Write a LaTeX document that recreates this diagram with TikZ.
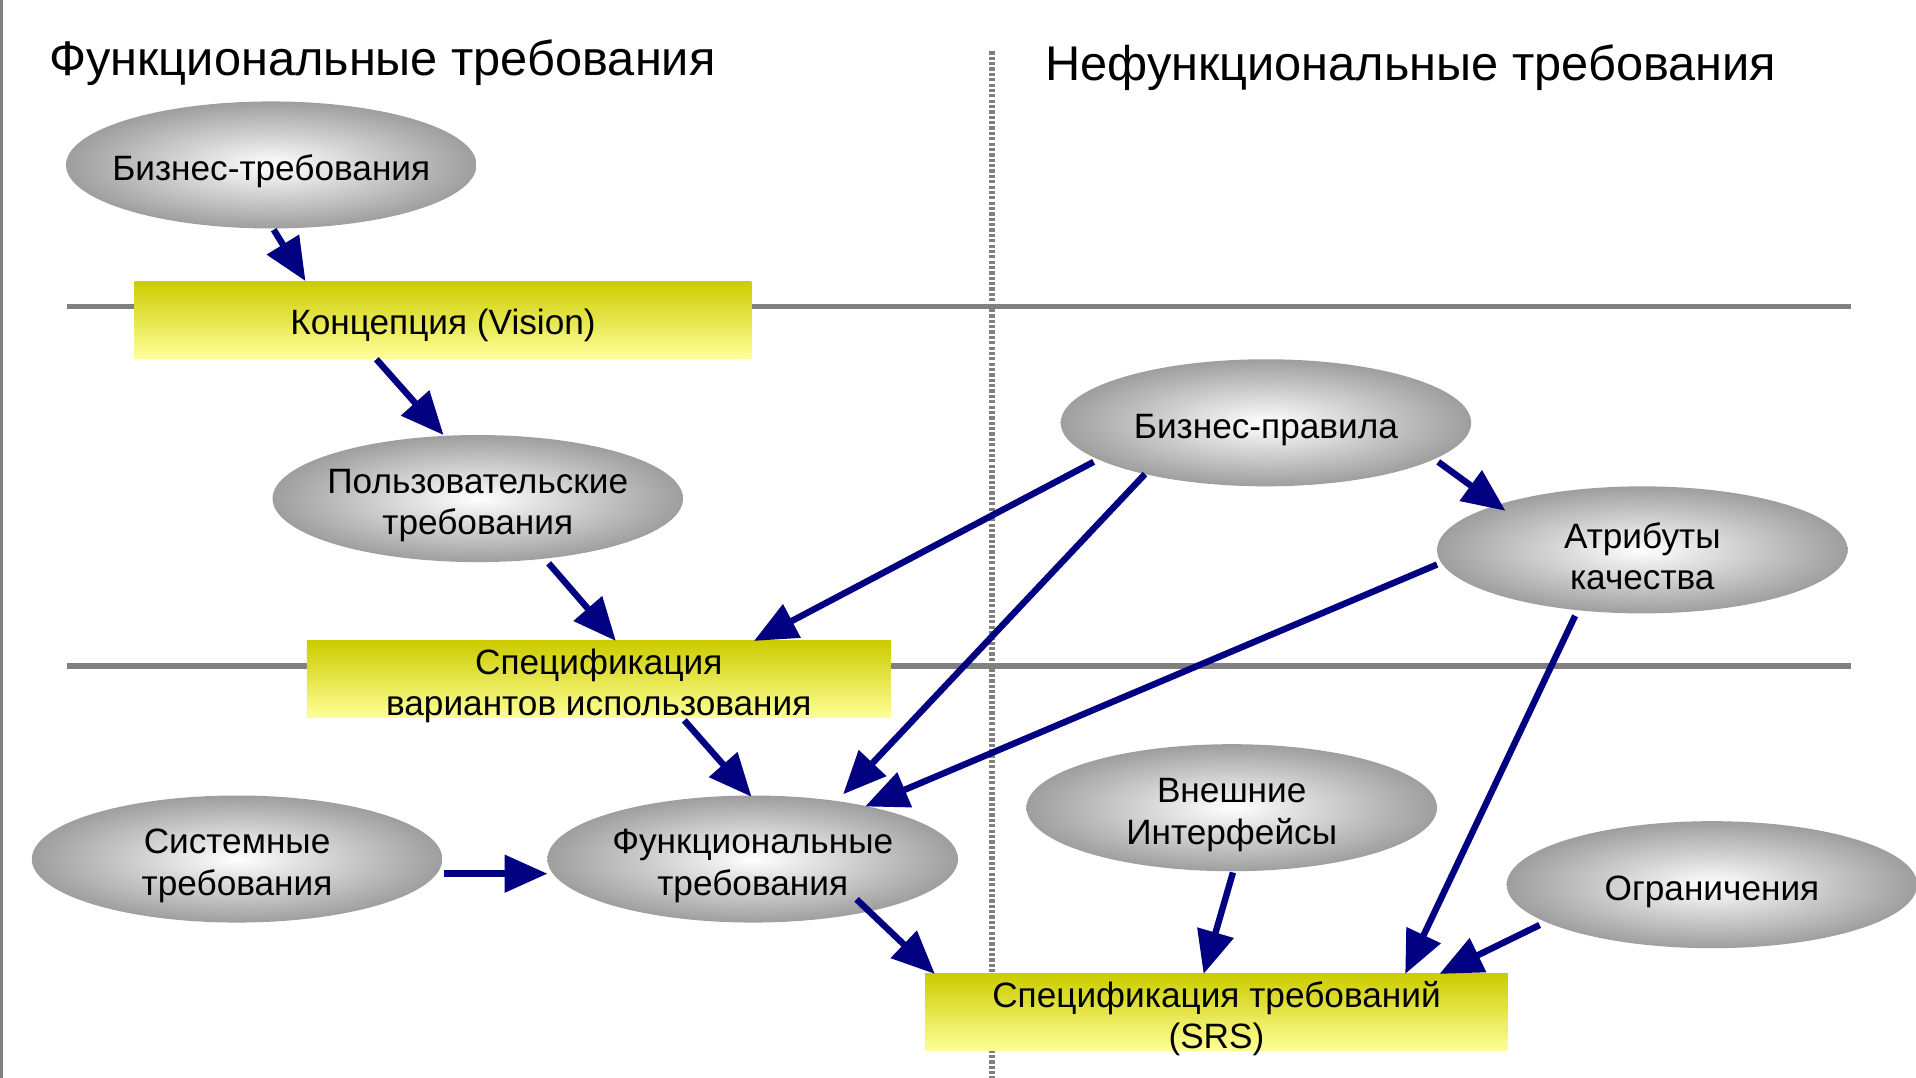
\documentclass[tikz,border=0pt]{standalone}
\usepackage{fontspec}
\setmainfont{Liberation Sans}
\usetikzlibrary{shapes.geometric,arrows.meta,calc}
\definecolor{arrowblue}{HTML}{000080}
\definecolor{linegray}{HTML}{808080}
\definecolor{boxtop}{HTML}{CCCC00}
\definecolor{boxbottom}{HTML}{FFFF99}
\newcommand\lift[1][18pt]{\rule{0pt}{#1}}
\begin{document}
\begin{tikzpicture}[x=0.02cm, y=-0.02cm,
    req/.style={ellipse, shading=radial, inner color=white, outer color=black!38,
      minimum width=6.72cm, minimum height=2.08cm, inner xsep=-0.3cm, inner ysep=0pt,
      outer sep=0pt, align=center, font=\fontsize{16.4}{19.3}\selectfont},
    doc/.style={rectangle, top color=boxtop, bottom color=boxbottom, minimum height=1.26cm,
      inner xsep=0pt, inner ysep=-4pt, outer sep=0pt, align=center,
      font=\fontsize{16.4}{19.3}\selectfont},
    title/.style={inner sep=0pt, anchor=base west, font=\fontsize{22.7}{26}\selectfont},
    link/.style={draw=arrowblue, line width=3pt, -{Triangle[length=20pt, width=17pt]}},
    band/.style={draw=linegray, line width=2.4pt}]
    \useasboundingbox (0,0) rectangle (1568,882);
    \draw[draw=linegray, line width=1.2pt] (1,0) -- (1,882);
    \draw[band] (55,251) -- (1515,251);
    \draw[band] (55,545) -- (1515,545);
    \draw[draw=linegray, line width=2.8pt, dash pattern=on 1.5pt off 1pt] (812,42) -- (812,882);
    \node[title] (left) at (40,62) {Функциональные требования};
    \node[title] (right) at (855,66) {Нефункциональные требования};
    \node[req] (bizreq) at (222,135) {\lift Бизнес-требования};
    \node[doc, minimum width=10.1cm] (vision) at (362.5,261.5) {\lift[17pt]Концепция (Vision)};
    \node[req] (userreq) at (391,408) {\lift Пользовательские\\требования};
    \node[doc, minimum width=9.56cm] (usecase) at (490,556) {\lift Спецификация\\вариантов использования};
    \node[req] (sysreq) at (194,703) {\lift Системные\\требования};
    \node[req] (funcreq) at (616,703) {\lift Функциональные\\требования};
    \node[req] (bizrules) at (1036,346) {\lift Бизнес-правила};
    \node[req] (quality) at (1344,450) {\lift Атрибуты\\качества};
    \node[req] (extif) at (1008,661) {\lift Внешние\\Интерфейсы};
    \node[req] (limits) at (1401,724) {\lift Ограничения};
    \node[doc, minimum width=9.54cm] (srs) at (995.5,828.5) {\lift Спецификация требований\\(SRS)};
    \draw[link] ($(bizreq.south)+(2,1)$) -- ($(vision.north)+(-112.5,0)$);
    \draw[link] ($(vision.south)+(-54.5,1)$) -- ($(userreq.north)+(-28,0)$);
    \draw[link] ($(userreq.south)+(58,1)$) -- ($(usecase.north)+(14,0)$);
    \draw[link] ($(bizrules)+(-141,32)$) -- ($(usecase.north)+(127,0)$);
    \draw[link] ($(bizrules)+(-99,42)$) -- ($(funcreq)+(74,-53)$);
    \draw[link] ($(bizrules)+(141,32)$) -- ($(quality)+(-112,-32)$);
    \draw[link] ($(quality.west)+(0,12)$) -- ($(funcreq)+(92,-43)$);
    \draw[link] ($(quality.south)+(-55,2)$) -- ($(srs.north)+(154.5,0)$);
    \draw[link] ($(usecase.south)+(70,2)$) -- ($(funcreq.north)+(-1,1)$);
    \draw[link] ($(sysreq.east)+(1,12)$) -- ($(funcreq.west)+(0,12)$);
    \draw[link] ($(funcreq)+(85,33)$) -- ($(srs.north)+(-230.5,0)$);
    \draw[link] ($(extif.south)+(1,1)$) -- ($(srs.north)+(-10.5,0)$);
    \draw[link] ($(limits)+(-141,33)$) -- ($(srs.north)+(182.5,0)$);
\end{tikzpicture}
\end{document}
